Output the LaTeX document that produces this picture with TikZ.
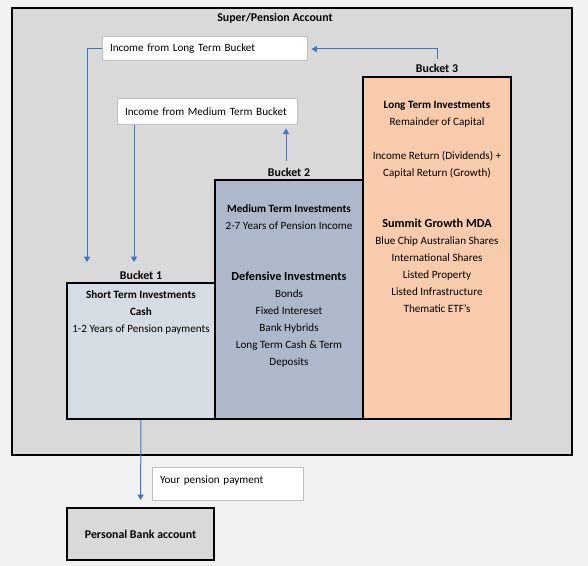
\documentclass[tikz,border=0pt]{standalone}
\usepackage{fontspec}
\setmainfont{Carlito}
\usetikzlibrary{arrows.meta}
\definecolor{fond}{HTML}{F2F2F2}
\definecolor{compte}{HTML}{D9D9D9}
\definecolor{seauA}{HTML}{D6DCE4}
\definecolor{seauB}{HTML}{ADB9CA}
\definecolor{seauC}{HTML}{F8CBAD}
\definecolor{cadre}{HTML}{BFBFBF}
\definecolor{flux}{HTML}{4472C4}
\begin{document}
\begin{tikzpicture}[ x=0.75pt, y=-0.75pt,
	font=\fontsize{8.35}{12.75}\selectfont,
	bac/.style={draw=black, line width=1.5pt, minimum width=111pt, inner sep=0pt},
	titre/.style={font=\fontsize{8.9}{12.75}\selectfont\bfseries},
	info/.style={draw=cadre, fill=white, line width=0.75pt, align=left, inner xsep=6pt, inner ysep=0pt},
	liste/.style={align=center, anchor=north, inner sep=0pt},
	fleche/.style={draw=flux, line width=0.75pt, -{Triangle[width=4.5pt,length=4pt]}}]
			\useasboundingbox (0,0) rectangle (588,566);
			\fill[fond] (0,0) rectangle (588,566);
			%Compte principal
			\node[draw=black, line width=1.5pt, fill=compte, minimum width=420pt, minimum height=335.25pt] (compte) at (292,231.5) {};
			\node[titre] (nomcompte) at (275,18) {Super/Pension Account};
			%Encadres des revenus
			\node[info, text width=141.75pt, minimum height=18pt] (inc3) at (204.5,49) {Income from Long Term Bucket};
			\node[info, text width=123pt, minimum height=19.5pt] (inc2) at (207,112) {Income from Medium Term Bucket};
			\node[info, text width=101.25pt, minimum height=24.75pt, text depth=6.4pt] (paie) at (227.5,483.5) {Your pension payment};
			%Les trois seaux
			\node[bac, fill=seauA, minimum height=102pt] (bac1) at (141,351) {};
			\node[bac, fill=seauB, minimum height=179.25pt] (bac2) at (289,299.5) {};
			\node[bac, fill=seauC, minimum height=256.5pt] (bac3) at (437,248) {};
			\node[titre] (etiq1) at (141,275) {Bucket 1};
			\node[titre] (etiq2) at (289,172) {Bucket 2};
			\node[titre] (etiq3) at (437,68) {Bucket 3};
			%Contenu des seaux
			\node[liste] (txt1) at (141,290.5) {\textbf{Short Term Investments}\\
				\textbf{Cash}\\
				1-2 Years of Pension payments};
			\node[liste] (txt2) at (289,204) {\textbf{Medium Term Investments}\\
				2-7 Years of Pension Income\\[25.5pt]
				{\fontsize{9.2}{12.75}\selectfont\bfseries Defensive Investments}\\
				Bonds\\
				Fixed Intereset\\
				Bank Hybrids\\
				Long Term Cash \& Term\\
				Deposits};
			\node[liste] (txt3) at (437,101.5) {\textbf{Long Term Investments}\\
				Remainder of Capital\\[12.75pt]
				Income Return (Dividends) +\\
				Capital Return (Growth)\\[25.5pt]
				{\fontsize{9.2}{12.75}\selectfont\bfseries Summit Growth MDA}\\
				Blue Chip Australian Shares\\
				International Shares\\
				Listed Property\\
				Listed Infrastructure\\
				Thematic ETF's};
			%Compte bancaire
			\node[draw=black, line width=1.5pt, fill=compte, minimum width=110.25pt, minimum height=39pt, titre] (banque) at (140.5,534) {Personal Bank account};
			%Flux
			\coordinate (arr3) at (87,262);
			\coordinate (arr2) at (134,262);
			\coordinate (dep2) at (286,161);
			\draw[fleche] (etiq3.north) |- ([xshift=3pt]inc3.east);
			\draw[fleche] (inc3.west) -| (arr3);
			\draw[fleche] (inc2.south -| arr2) -- (arr2);
			\draw[fleche, shorten >=2.25pt] (dep2) -- (dep2 |- inc2.south);
			\draw[fleche, shorten >=5.25pt] (bac1.south) -- (banque.north);
		\end{tikzpicture}
\end{document}
